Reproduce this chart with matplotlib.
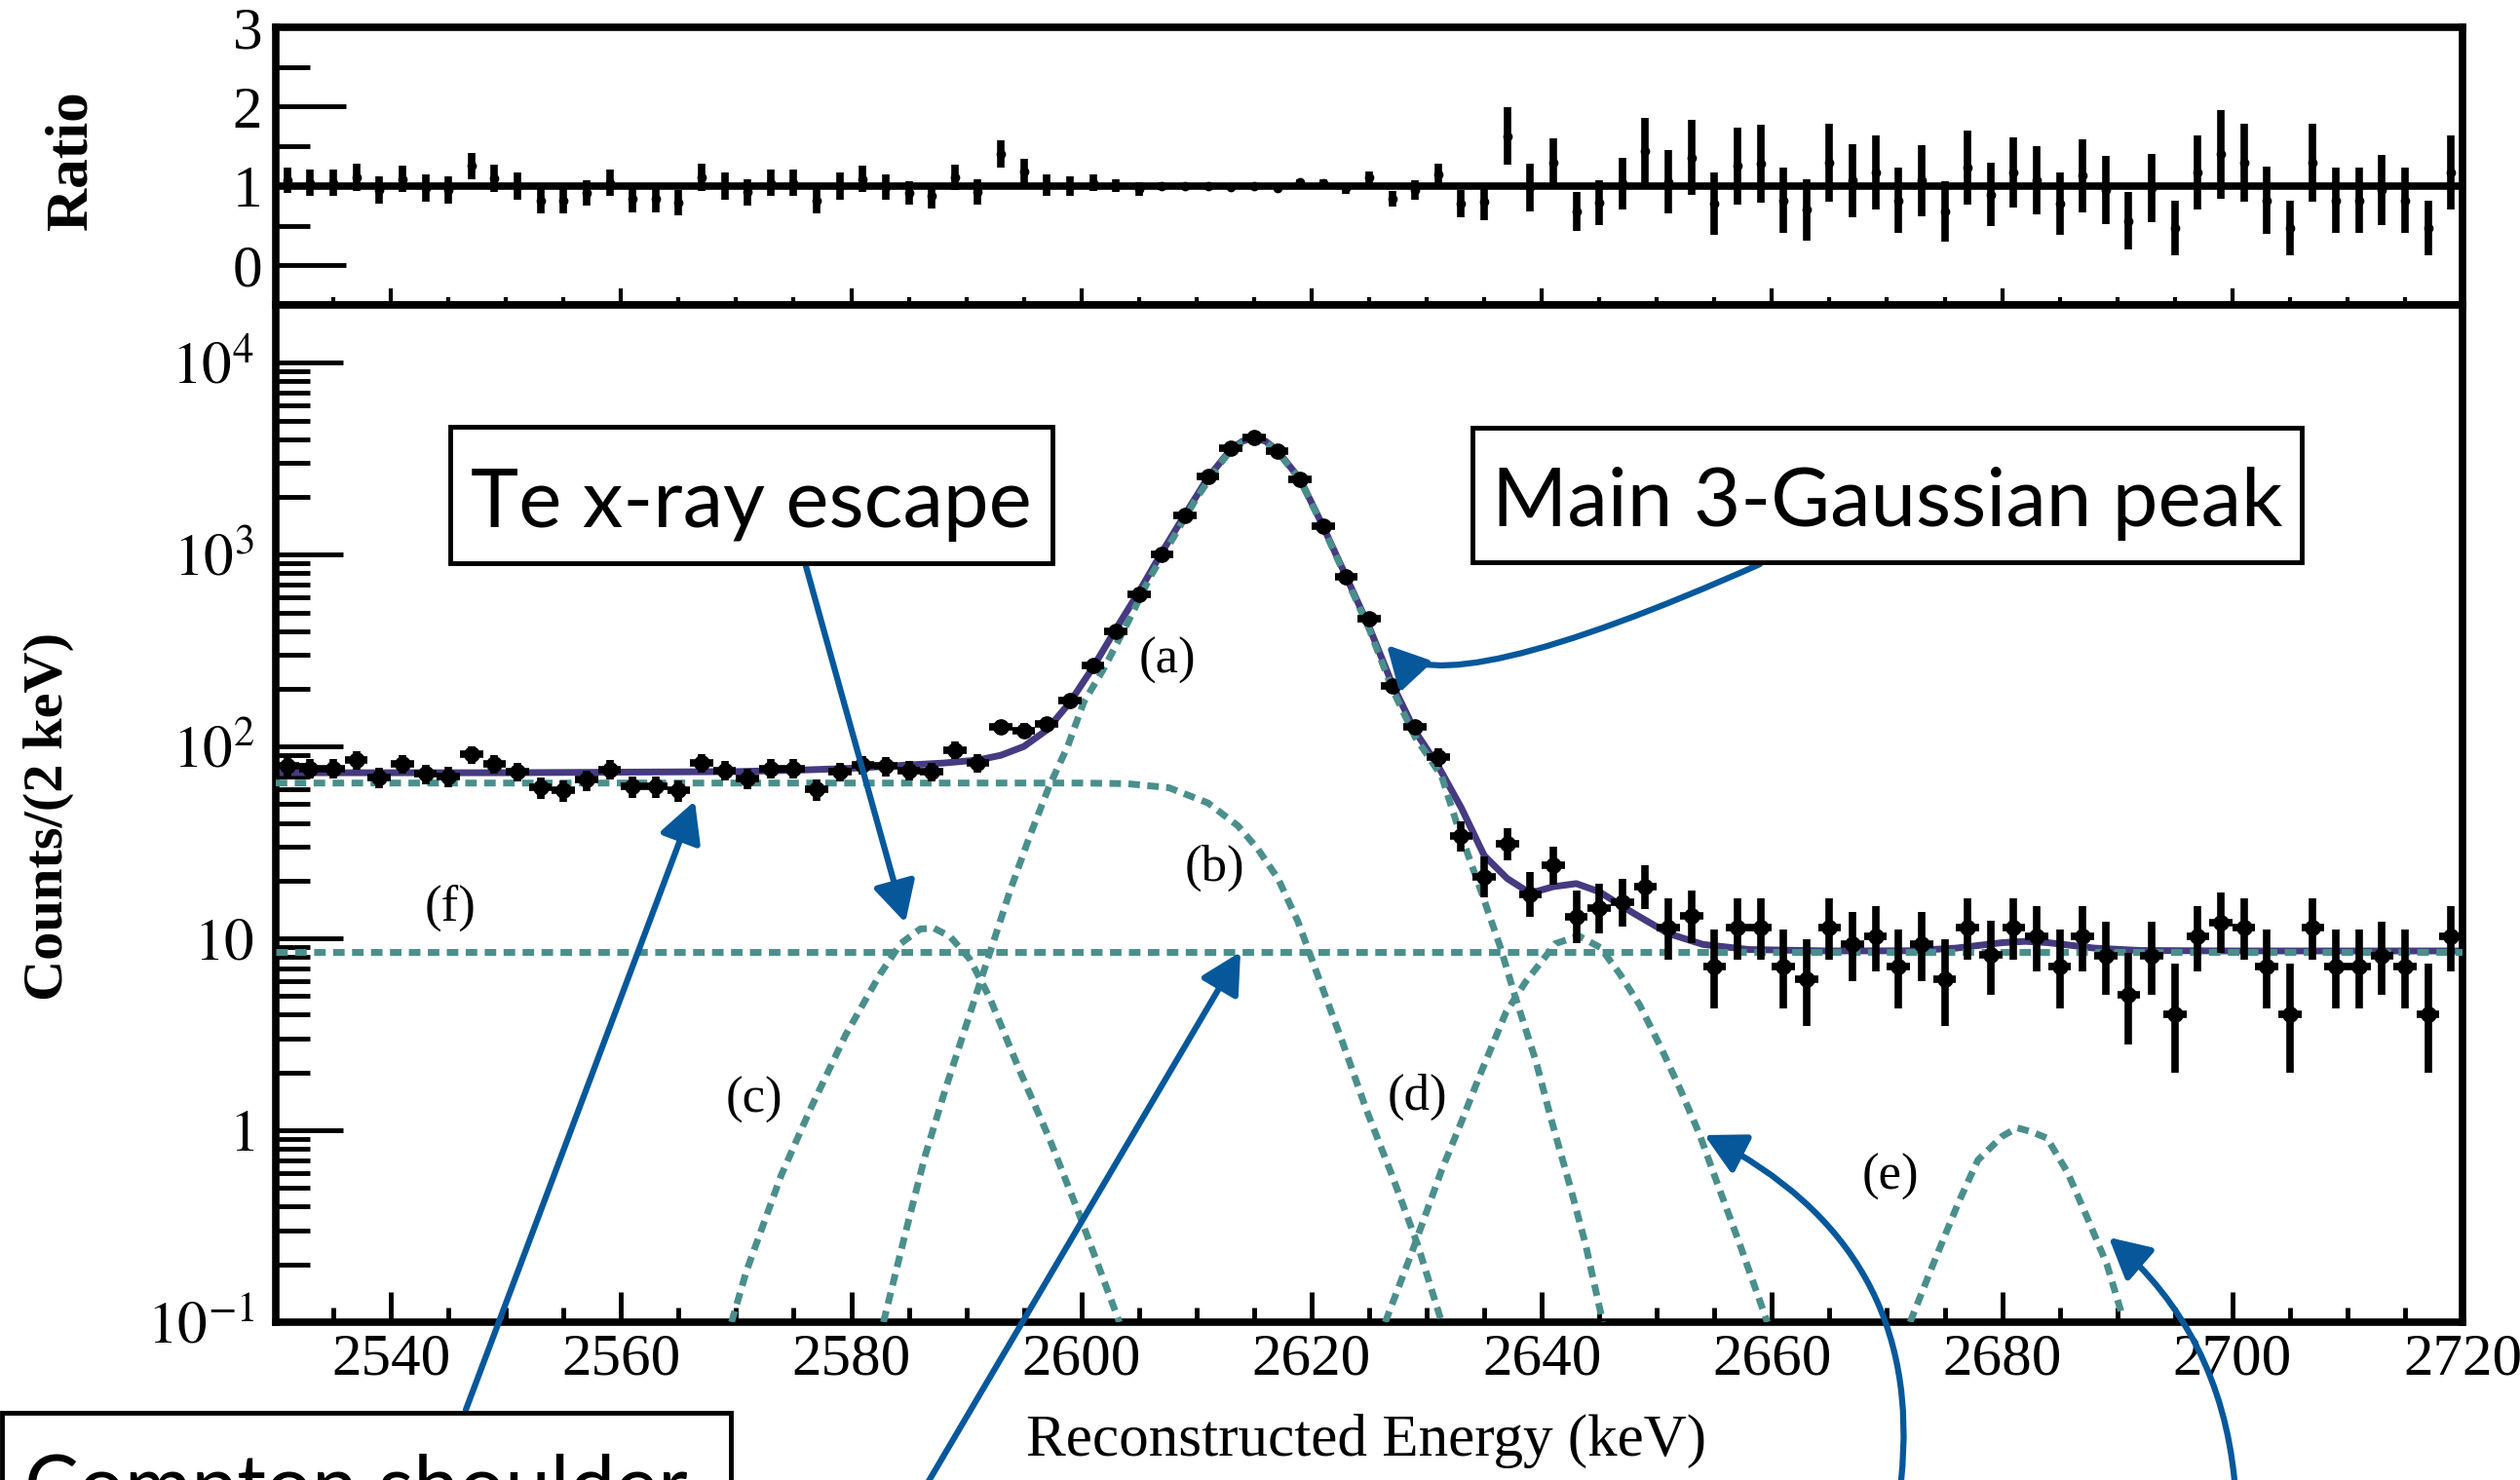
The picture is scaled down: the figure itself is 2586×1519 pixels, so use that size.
import numpy as np
import matplotlib.pyplot as plt
from matplotlib.patches import Rectangle
from matplotlib.ticker import FixedLocator, FixedFormatter, MultipleLocator, NullFormatter

plt.rcParams['font.family'] = ['Liberation Serif', 'DejaVu Serif']
plt.rcParams['mathtext.fontset'] = 'stix'

W, H = 2586, 1519

# bin centres, 2 keV bins
energy = np.arange(2531, 2721, 2)

counts = [79, 77, 77, 85, 69, 81, 72, 70, 91, 81,
          74, 61, 59, 67, 76, 62, 62, 59, 82, 75,
          68, 77, 77, 60, 74, 80, 79, 75, 74, 96,
          82, 126, 121, 131, 173, 265, 400, 620, 1005, 1605,
          2568, 3600, 4070, 3450, 2470, 1403, 762, 462, 206, 126,
          88, 34, 21, 31, 17, 24, 13, 14.4, 15.4, 18.6,
          11.4, 13.1, 7.1, 11.4, 11.4, 7.1, 6.1, 11.4, 9.3, 10.2,
          7.1, 9.3, 6.1, 11.4, 8.2, 11.4, 10.2, 7.1, 10.2, 8.1,
          5.1, 8.1, 4.0, 10.2, 12.1, 11.4, 7.1, 4.0, 11.4, 7.1,
          7.1, 8.1, 7.1, 4.0, 10.2]

err_lo = [8.9, 8.8, 8.8, 9.2, 8.3, 9.0, 8.5, 8.4, 9.5, 9.0,
          8.6, 7.8, 7.7, 8.2, 8.7, 7.9, 7.9, 7.7, 9.1, 8.7,
          8.2, 8.8, 8.8, 7.7, 8.6, 8.9, 8.9, 8.7, 8.6, 9.8,
          9.1, 11.2, 11.0, 11.4, 13.2, 16.3, 20, 24.9, 31.7, 40,
          50.7, 60, 63.8, 58.7, 49.7, 37.5, 27.6, 21.5, 14.4, 11.2,
          9.4, 5.8, 4.6, 5.6, 4.1, 4.9, 3.6, 3.8, 3.9, 4.3,
          3.7, 3.6, 2.8, 3.7, 3.7, 2.8, 2.6, 3.7, 3.3, 3.5,
          2.8, 3.3, 2.6, 3.7, 3.1, 3.7, 3.5, 2.8, 3.5, 3.0,
          2.3, 3.0, 2.0, 3.5, 3.65, 3.7, 2.8, 2.0, 3.7, 2.8,
          2.8, 3.0, 2.8, 2.0, 3.5]

err_hi = [8.9, 8.8, 8.8, 9.2, 8.3, 9.0, 8.5, 8.4, 9.5, 9.0,
          8.6, 7.8, 7.7, 8.2, 8.7, 7.9, 7.9, 7.7, 9.1, 8.7,
          8.2, 8.8, 8.8, 7.7, 8.6, 8.9, 8.9, 8.7, 8.6, 9.8,
          9.1, 11.2, 11.0, 11.4, 13.2, 16.3, 20, 24.9, 31.7, 40,
          50.7, 60, 63.8, 58.7, 49.7, 37.5, 27.6, 21.5, 14.4, 11.2,
          9.4, 6.9, 5.6, 6.6, 5.2, 5.9, 4.7, 4.9, 5.0, 5.4,
          4.7, 4.7, 4.0, 4.7, 4.7, 4.0, 3.8, 4.7, 4.4, 4.5,
          4.0, 4.4, 3.8, 4.7, 4.2, 4.7, 4.5, 4.0, 4.5, 4.1,
          3.3, 4.1, 3.4, 4.5, 5.2, 4.7, 4.0, 3.4, 4.7, 4.0,
          4.0, 4.1, 4.0, 3.4, 4.5]

ratio = [1.07, 1.04, 1.04, 1.11, 0.95, 1.09, 0.97, 0.95, 1.25, 1.10,
         1.00, 0.82, 0.82, 0.91, 1.04, 0.84, 0.84, 0.79, 1.11, 1.00,
         0.92, 1.04, 1.04, 0.82, 1.00, 1.09, 0.99, 0.91, 0.87, 1.11,
         0.93, 1.40, 1.18, 1.01, 1.00, 1.04, 1.00, 0.96, 1.00, 1.00,
         1.00, 0.99, 1.00, 0.97, 1.05, 1.03, 0.97, 1.11, 0.84, 0.95,
         1.15, 0.78, 0.80, 1.63, 0.98, 1.29, 0.68, 0.79, 1.03, 1.44,
         1.05, 1.36, 0.78, 1.25, 1.28, 0.82, 0.70, 1.29, 1.07, 1.17,
         0.82, 1.07, 0.68, 1.23, 0.89, 1.17, 1.07, 0.78, 1.13, 0.95,
         0.56, 0.97, 0.47, 1.17, 1.40, 1.29, 0.82, 0.47, 1.29, 0.82,
         0.82, 0.95, 0.82, 0.47, 1.17]

ratio_err = [0.16, 0.17, 0.17, 0.17, 0.17, 0.17, 0.17, 0.17, 0.17, 0.17,
             0.17, 0.17, 0.17, 0.16, 0.17, 0.17, 0.17, 0.16, 0.17, 0.17,
             0.17, 0.17, 0.17, 0.17, 0.17, 0.17, 0.16, 0.15, 0.16, 0.16,
             0.16, 0.17, 0.16, 0.13, 0.12, 0.10, 0.08, 0.085, 0.05, 0.04,
             0.03, 0.03, 0.03, 0.03, 0.03, 0.055, 0.07, 0.07, 0.10, 0.12,
             0.13, 0.17, 0.23, 0.36, 0.30, 0.31, 0.25, 0.28, 0.33, 0.42,
             0.40, 0.47, 0.39, 0.48, 0.49, 0.41, 0.39, 0.49, 0.46, 0.47,
             0.41, 0.45, 0.38, 0.47, 0.40, 0.44, 0.43, 0.39, 0.46, 0.43,
             0.36, 0.43, 0.34, 0.47, 0.56, 0.49, 0.42, 0.34, 0.49, 0.41,
             0.41, 0.44, 0.41, 0.34, 0.47]

# total fit
fit_e = [2530, 2540, 2550, 2560, 2570, 2576, 2580, 2584, 2588, 2591,
         2593, 2595, 2597, 2599, 2601, 2603, 2605, 2607, 2609, 2611,
         2613, 2614, 2615, 2616, 2617, 2619, 2621, 2623, 2625, 2627,
         2629, 2631, 2633, 2635, 2637, 2639, 2641, 2643, 2645, 2648,
         2651, 2654, 2658, 2665, 2672, 2676, 2680, 2682, 2684, 2688,
         2692, 2700, 2710, 2720]
fit_v = [73, 73, 73, 73.5, 74, 75.5, 77, 79.5, 82, 85,
         90, 100, 122, 170, 258, 410, 640, 1030, 1620, 2520,
         3550, 3900, 4070, 3900, 3500, 2470, 1403, 769, 420, 212,
         120, 79, 48, 27, 20.5, 17.2, 18.6, 19.3, 17.5, 13.5,
         10.6, 9.3, 8.75, 8.6, 8.62, 8.9, 9.5, 9.65, 9.5, 8.9,
         8.65, 8.6, 8.6, 8.6]

# fit components (dashed)
a_e = [2582.8, 2584.7, 2586.4, 2588.2, 2589.9, 2591.2, 2592.5, 2593.8, 2595.5, 2597.2,
       2598.8, 2600.2, 2602, 2604, 2606, 2608, 2610, 2612, 2613, 2614,
       2615, 2616, 2617, 2619, 2621, 2623, 2625, 2627, 2629, 2631.3,
       2632.6, 2634.7, 2636.4, 2637.7, 2639.5, 2640.8, 2642.5, 2643.8, 2645.3]
a_v = [0.1, 0.29, 0.73, 1.65, 3.4, 5.9, 10.2, 17.7, 34, 62,
       100, 170, 258, 440, 770, 1230, 1970, 2950, 3500, 3850,
       4020, 3860, 3460, 2450, 1390, 755, 410, 200, 112, 70,
       40, 17.8, 9, 4.95, 2.28, 1.15, 0.5, 0.255, 0.1]

b_e = [2530, 2600, 2604, 2607.6, 2611, 2613.6, 2615.3, 2617.1, 2618.8, 2620.5,
       2622.7, 2624.8, 2627, 2629.2, 2631.3]
b_v = [64.5, 64.5, 64, 61, 50.8, 38.6, 29.4, 20.4, 12.3, 6.5,
       2.86, 1.26, 0.58, 0.255, 0.1]

c_e = [2569.6, 2570.9, 2573.9, 2576.5, 2579.5, 2582.5, 2584.3, 2586, 2587.2, 2588.6,
       2590.3, 2592, 2594.6, 2597.2, 2599.8, 2603.3]
c_v = [0.1, 0.185, 0.58, 1.31, 3.13, 6.5, 9.4, 11.2, 11.3, 10.2,
       7.8, 4.95, 2.07, 0.91, 0.366, 0.1]

d_e = [2626.4, 2628.7, 2631.3, 2633, 2634.7, 2636.9, 2638.6, 2641.2, 2643.2, 2645.1,
       2646.8, 2648.5, 2650.3, 2652, 2653.7, 2655.4, 2657.2, 2659.6]
d_v = [0.1, 0.23, 0.62, 1.1, 1.99, 4.13, 5.94, 9.4, 10.3, 8.95,
       6.5, 4.5, 2.74, 1.65, 0.955, 0.5, 0.255, 0.1]

e_e = [2672, 2674, 2676.2, 2677.9, 2680, 2681.3, 2682.6, 2683.9, 2685.7, 2687.4, 2689.1, 2690.4]
e_v = [0.1, 0.2, 0.42, 0.7, 0.93, 1.03, 0.98, 0.91, 0.6, 0.35, 0.2, 0.11]

f_e = [2530, 2720]
f_v = [8.5, 8.5]

comp_labels = ['(a)', '(b)', '(c)', '(d)', '(e)', '(f)']
comp_label_e = [2607.5, 2611.6, 2571.6, 2629.2, 2670.3, 2545.2]
comp_label_v = [279, 23.4, 1.44, 1.5, 0.57, 14.5]

ytick_vals = [0.1, 1, 10, 100, 1000, 10000]
ytick_txt = ['$10^{-1}$', '$1$', '$10$', '$10^{2}$', '$10^{3}$', '$10^{4}$']

FIT = '#463a80'
COMP = '#4a8f8c'
ARROW = '#06589b'
LW_AX = 5.5


def fpx(x, y):
    # image pixel -> figure fraction
    return (x / W, 1 - y / H)


fig = plt.figure(figsize=(W / 100, H / 100), dpi=100)
ax_r = fig.add_axes([283 / W, 1 - 313 / H, (2527 - 283) / W, (313 - 28) / H])
ax = fig.add_axes([283 / W, 1 - 1357 / H, (2527 - 283) / W, (1357 - 313) / H])

for a in (ax, ax_r):
    for s in a.spines.values():
        s.set_linewidth(LW_AX)
    a.set_xlim(2530, 2720)
    a.xaxis.set_major_locator(MultipleLocator(20))
    a.xaxis.set_minor_locator(MultipleLocator(5))

# ---- ratio panel
ax_r.axhline(1, color='k', lw=5.5, zorder=2)
ax_r.errorbar(energy, ratio, yerr=ratio_err, fmt='o', ms=6, color='k',
              elinewidth=5.5, capsize=0, zorder=3)
ax_r.set_ylim(-0.5, 3)
ax_r.yaxis.set_major_locator(FixedLocator([0, 1, 2, 3]))
ax_r.yaxis.set_minor_locator(FixedLocator([0.5, 1.5, 2.5]))
ax_r.tick_params(axis='both', which='both', direction='in', top=False, right=False)
ax_r.tick_params(axis='y', which='major', length=52, width=3.5, labelsize=44, pad=10)
ax_r.tick_params(axis='y', which='minor', length=25, width=3.5)
ax_r.tick_params(axis='x', which='major', length=12, width=3, labelbottom=False)
ax_r.tick_params(axis='x', which='minor', length=6, width=3)

# ---- main panel
ax.set_yscale('log')
ax.set_ylim(0.1, 2e4)
ax.plot(fit_e, fit_v, color=FIT, lw=5, zorder=2)
dash = (0, (1.7, 1.1))
for ce, cv in [(a_e, a_v), (b_e, b_v), (c_e, c_v), (d_e, d_v), (e_e, e_v), (f_e, f_v)]:
    ax.plot(ce, cv, color=COMP, lw=5, linestyle=dash, zorder=3)
ax.errorbar(energy, counts, yerr=[err_lo, err_hi], xerr=1, fmt='o', ms=11, color='k',
            elinewidth=5.5, capsize=0, zorder=4)

ax.yaxis.set_major_locator(FixedLocator(ytick_vals))
ax.yaxis.set_major_formatter(FixedFormatter(ytick_txt))
ax.yaxis.set_minor_locator(FixedLocator([m * 10.0 ** k for k in range(-1, 4) for m in range(2, 10)]))
ax.yaxis.set_minor_formatter(NullFormatter())
ax.tick_params(axis='both', which='both', direction='in', top=False, right=False)
ax.tick_params(axis='y', which='major', length=50, width=3.5, labelsize=44, pad=16)
ax.tick_params(axis='y', which='minor', length=25, width=3.5)
ax.tick_params(axis='x', which='major', length=22, width=3.5, labelsize=44, pad=8)
ax.tick_params(axis='x', which='minor', length=11, width=3.5)

for t, xe, yv in zip(comp_labels, comp_label_e, comp_label_v):
    ax.text(xe, yv, t, fontsize=38, ha='center', va='center', zorder=5)

# axis titles
fig.text(1402 / W, 1 - 1479 / H, 'Reconstructed Energy (keV)', fontsize=44,
         ha='center', va='center')
fig.text(50 / W, 1 - 838 / H, 'Counts/(2 keV)', fontsize=42, weight='bold',
         rotation=90, ha='center', va='center')
fig.text(74 / W, 1 - 165 / H, 'Ratio', fontsize=44, weight='bold',
         rotation=90, ha='center', va='center')

# annotation boxes (pixel boxes of the picture)
boxes = [((462, 438, 1080, 578), 'Te x-ray escape', 541),
         ((1511, 439, 2362, 577), 'Main 3-Gaussian peak', 540),
         ((2, 1450, 750, 1600), 'Compton shoulder', 1553)]
for (x0, y0, x1, y1), txt, base in boxes:
    fig.add_artist(Rectangle(fpx(x0, y1), (x1 - x0) / W, (y1 - y0) / H,
                             transform=fig.transFigure, fc='white', ec='black',
                             lw=3.5, zorder=6))
    if txt == 'Compton shoulder':
        fig.text(25 / W, 1 - base / H, txt, fontsize=60, family='Lato',
                 ha='left', va='baseline', zorder=7)
    else:
        fig.text((x0 + x1) / 2 / W, 1 - base / H, txt, fontsize=60, family='Lato',
                 ha='center', va='baseline', zorder=7)

# arrows
def arrow(tip, tail, style='arc3,rad=0'):
    ax.annotate('', xy=fpx(*tip), xytext=fpx(*tail),
                xycoords='figure fraction', textcoords='figure fraction',
                arrowprops=dict(arrowstyle='-|>,head_length=0.36,head_width=0.19',
                                color=ARROW, lw=4.5, shrinkA=0, shrinkB=0,
                                mutation_scale=70, connectionstyle=style),
                zorder=8, annotation_clip=False)


arrow((929, 947), (827, 581))
arrow((1423, 662), (1806, 579), 'angle3,angleA=204,angleB=133')
arrow((713, 822), (478, 1447))
arrow((1273, 977), (906, 1600))
arrow((1749, 1165), (1951, 1519), 'angle3,angleA=84,angleB=153')
arrow((2164, 1270), (2293, 1519), 'arc3,rad=0.2')

fig.savefig('out.png', dpi=100)
